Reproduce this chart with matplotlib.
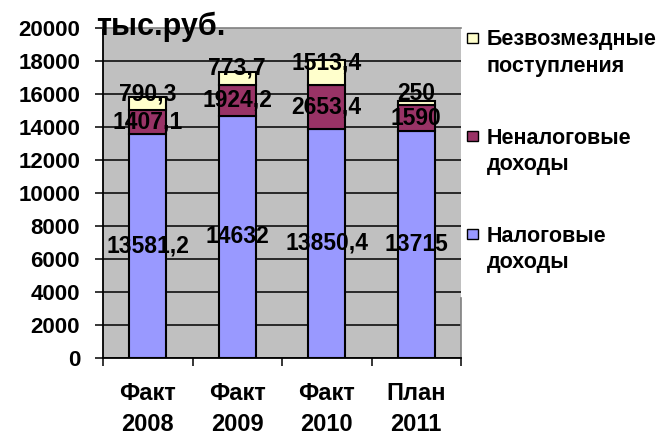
import matplotlib
matplotlib.use("Agg")
import matplotlib.pyplot as plt
from matplotlib.patches import Rectangle
from matplotlib.transforms import blended_transform_factory

plt.rcParams['font.family'] = ['Liberation Sans', 'DejaVu Sans']
plt.rcParams['font.weight'] = 'bold'

categories = ["Факт\n2008", "Факт\n2009", "Факт\n2010", "План\n2011"]
tax = [13581.2, 14632, 13850.4, 13715]
nontax = [1407.1, 1924.2, 2653.4, 1590]
free = [790.3, 773.7, 1513.4, 250]
series_names = ["Налоговые\nдоходы", "Неналоговые\nдоходы", "Безвозмездные\nпоступления"]
colors = ["#9999FF", "#993366", "#FFFFCC"]
unit = "тыс.руб."
yticks = list(range(0, 20001, 2000))

W, H = 664, 437
fig = plt.figure(figsize=(W / 100, H / 100), dpi=100)
fig.patch.set_facecolor("white")

def fx(px):
    return px / W

def fy(py):
    return 1 - py / H

left, right, top, bottom = 103, 461, 27.7, 357.7
ax = fig.add_axes([fx(left), fy(bottom), fx(right) - fx(left), fy(top) - fy(bottom)])
ax.set_facecolor("#C0C0C0")

x = list(range(len(categories)))
bw = 0.41
series = [tax, nontax, free]
bottoms = [0] * len(x)
for i, (vals, col) in enumerate(zip(series, colors)):
    ax.bar(x, vals, bw, bottom=bottoms, color=col, edgecolor="black", linewidth=1.5, zorder=3)
    for xi, v, b in zip(x, vals, bottoms):
        txt = f"{v:g}".replace(".", ",")
        off = 7 if i == 2 else 0
        ax.annotate(txt, (xi, b + v / 2), xytext=(0, off), textcoords="offset points",
                    ha="center", va="center", fontsize=16.5, fontweight="bold", zorder=5)
    bottoms = [b + v for b, v in zip(bottoms, vals)]

ax.set_xlim(-0.5, len(categories) - 0.5)
ax.set_ylim(0, 20000)
ax.set_yticks(yticks)
ax.set_yticklabels([str(t) for t in yticks], fontsize=16, fontweight="bold")
ax.tick_params(axis="y", direction="out", length=6, width=1.1, pad=10.5, color="black")

# category boundaries as ticks; category names drawn below each bar
ax.set_xticks([i - 0.5 for i in range(len(categories) + 1)])
ax.set_xticklabels([])
ax.tick_params(axis="x", which="major", direction="out", length=6, width=1.1)
trans = blended_transform_factory(ax.transData, fig.transFigure)
for xi, cat in zip(x, categories):
    l1, l2 = cat.split("\n")
    ax.text(xi, fy(400.5), l1, transform=trans, ha="center", va="baseline",
            fontsize=17, fontweight="bold")
    ax.text(xi, fy(431), l2, transform=trans, ha="center", va="baseline",
            fontsize=17, fontweight="bold")

ax.set_axisbelow(True)
ax.yaxis.grid(True, color="black", linewidth=1.1)
gl = ax.get_ygridlines()
gl[-1].set_visible(False)

ax.spines["right"].set_visible(False)
ax.spines["top"].set_color("#808080")
ax.spines["top"].set_linewidth(1.2)
ax.spines["left"].set_linewidth(1.3)
ax.spines["bottom"].set_linewidth(1.3)
ax.plot([1, 1], [0, 0.18], transform=ax.transAxes, color="#808080", linewidth=1.2, clip_on=False)

fig.text(fx(96), fy(35), unit, fontsize=22, fontweight="bold", ha="left", va="baseline")

# legend (manual layout)
leg_rows = [(38, 2), (136, 1), (234, 0)]
for cy, idx in leg_rows:
    sq = 10.5
    fig.add_artist(Rectangle((fx(467), fy(cy + sq / 2)), fx(sq), sq / H,
                             transform=fig.transFigure, facecolor=colors[idx],
                             edgecolor="black", linewidth=1.0))
    l1, l2 = series_names[idx].split("\n")
    fig.text(fx(487), fy(cy + 7.5), l1, fontsize=15.5, fontweight="bold", ha="left", va="baseline")
    fig.text(fx(487), fy(cy + 34), l2, fontsize=15.5, fontweight="bold", ha="left", va="baseline")

fig.savefig("out.png", dpi=100)
